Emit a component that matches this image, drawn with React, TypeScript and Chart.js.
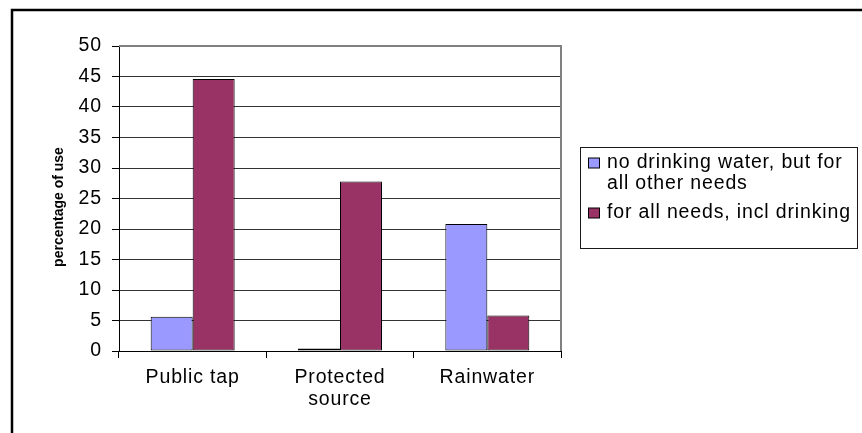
import React, { useEffect, useRef } from 'react';
import { Chart, registerables } from 'chart.js';

Chart.register(...registerables);

// ---- data ----
const categories: string[][] = [['Public tap'], ['Protected', 'source'], ['Rainwater']];
const seriesNames: string[] = ['no drinking water, but for all other needs', 'for all needs, incl drinking'];
const legendLines: string[][] = [['no drinking water, but for', 'all other needs'], ['for all needs, incl drinking']];
const noDrinkingWater: number[] = [5.6, 0.4, 20.8];
const allNeedsInclDrinking: number[] = [44.6, 27.8, 5.8];
const seriesColors: string[] = ['#9999FF', '#993366'];
const yAxisTitle = 'percentage of use';
const yMin = 0;
const yMax = 50;
const yStep = 5;

const FONT = 'Arial, "Liberation Sans", sans-serif';
const FONT_SIZE = 19.5;
const LETTER_SPACING = '0.85px';

const W = 862;
const H = 433;
const PLOT_LEFT = 119;
const PLOT_TOP = 46;
const PLOT_RIGHT = 561;
const PLOT_BOTTOM = 351;

const framePlugin = {
  id: 'frame',
  beforeDraw(chart: any) {
    const ctx = chart.ctx;
    ctx.save();
    ctx.fillStyle = '#ffffff';
    ctx.fillRect(0, 0, chart.width, chart.height);
    ctx.strokeStyle = '#000000';
    ctx.lineWidth = 2.5;
    ctx.strokeRect(12, 10, chart.width + 20, chart.height + 20);
    ctx.restore();
    // emulate the wider GDI text rendering of the original
    (ctx as any).letterSpacing = LETTER_SPACING;
  },
  afterDraw(chart: any) {
    const ctx = chart.ctx;
    const a = chart.chartArea;
    ctx.save();
    // plot-area border (grey) on top and right
    ctx.strokeStyle = '#808080';
    ctx.lineWidth = 2;
    ctx.beginPath();
    ctx.moveTo(a.left, a.top);
    ctx.lineTo(a.right, a.top);
    ctx.lineTo(a.right, a.bottom);
    ctx.stroke();

    // y axis title
    (ctx as any).letterSpacing = '0px';
    ctx.fillStyle = '#000';
    ctx.font = `bold 14px ${FONT}`;
    ctx.textAlign = 'center';
    ctx.textBaseline = 'middle';
    ctx.translate(59, 207);
    ctx.rotate(-Math.PI / 2);
    ctx.fillText(yAxisTitle, 0, 0);
    ctx.restore();

    // legend
    ctx.save();
    (ctx as any).letterSpacing = LETTER_SPACING;
    const lx = 580;
    const ly = 147;
    const lw = 277;
    const lh = 101;
    ctx.strokeStyle = '#1a1a1a';
    ctx.lineWidth = 1;
    ctx.strokeRect(lx + 0.5, ly + 0.5, lw, lh);
    ctx.font = `${FONT_SIZE}px ${FONT}`;
    ctx.textBaseline = 'middle';
    ctx.textAlign = 'left';
    let y = ly + 16;
    const lineH = 21;
    chart.data.datasets.forEach((ds: any, i: number) => {
      const lines = legendLines[i];
      ctx.fillStyle = ds.backgroundColor;
      ctx.fillRect(lx + 8.5, y - 5, 11, 10);
      ctx.strokeStyle = '#000';
      ctx.lineWidth = 1;
      ctx.strokeRect(lx + 8.5, y - 5, 11, 10);
      ctx.fillStyle = '#000';
      lines.forEach((t, k) => {
        ctx.fillText(t, lx + 27, y + k * lineH);
      });
      y += lines.length * lineH + 8;
    });
    ctx.restore();
  },
};

export default function App() {
  const ref = useRef<HTMLCanvasElement | null>(null);

  useEffect(() => {
    const canvas = ref.current;
    if (!canvas) return;
    const chart = new Chart(canvas, {
      type: 'bar',
      data: {
        labels: categories as any,
        datasets: [
          {
            label: seriesNames[0],
            data: noDrinkingWater,
            backgroundColor: seriesColors[0],
            borderColor: '#000000',
            borderWidth: 1,
            borderSkipped: false,
          },
          {
            label: seriesNames[1],
            data: allNeedsInclDrinking,
            backgroundColor: seriesColors[1],
            borderColor: '#000000',
            borderWidth: 1,
            borderSkipped: false,
          },
        ],
      },
      options: {
        responsive: false,
        animation: false,
        devicePixelRatio: 1,
        datasets: {
          bar: {
            categoryPercentage: 0.57,
            barPercentage: 1,
          },
        },
        layout: {
          padding: { left: 0, top: PLOT_TOP, right: W - PLOT_RIGHT, bottom: 0 },
        },
        plugins: {
          legend: { display: false },
          tooltip: { enabled: false },
          title: { display: false },
        },
        scales: {
          x: {
            offset: true,
            grid: {
              display: true,
              offset: true,
              drawOnChartArea: false,
              drawTicks: true,
              tickLength: 7,
              color: '#000000',
              lineWidth: 1,
            },
            border: { display: true, color: '#000000', width: 1 },
            ticks: {
              color: '#000000',
              font: { family: FONT, size: FONT_SIZE, lineHeight: 22 / FONT_SIZE },
              padding: 9,
              maxRotation: 0,
              autoSkip: false,
            },
            afterFit: (s: any) => {
              s.height = H - PLOT_BOTTOM;
            },
          },
          y: {
            min: yMin,
            max: yMax,
            ticks: {
              stepSize: yStep,
              color: '#000000',
              font: { family: FONT, size: FONT_SIZE },
              padding: 10,
            },
            grid: {
              color: (c: any) => (c.tick && c.tick.value === yMax ? '#808080' : '#333333'),
              tickColor: '#000000',
              lineWidth: 1,
              tickLength: 7,
            },
            border: { display: true, color: '#000000', width: 1 },
            title: { display: false },
            afterFit: (s: any) => {
              s.width = PLOT_LEFT;
            },
          },
        },
      },
      plugins: [framePlugin],
    });
    return () => chart.destroy();
  }, []);

  return (
    <div style={{ position: 'absolute', left: 0, top: 0, width: W, height: H }}>
      <canvas ref={ref} width={W} height={H} style={{ display: 'block', width: W, height: H }} />
    </div>
  );
}
